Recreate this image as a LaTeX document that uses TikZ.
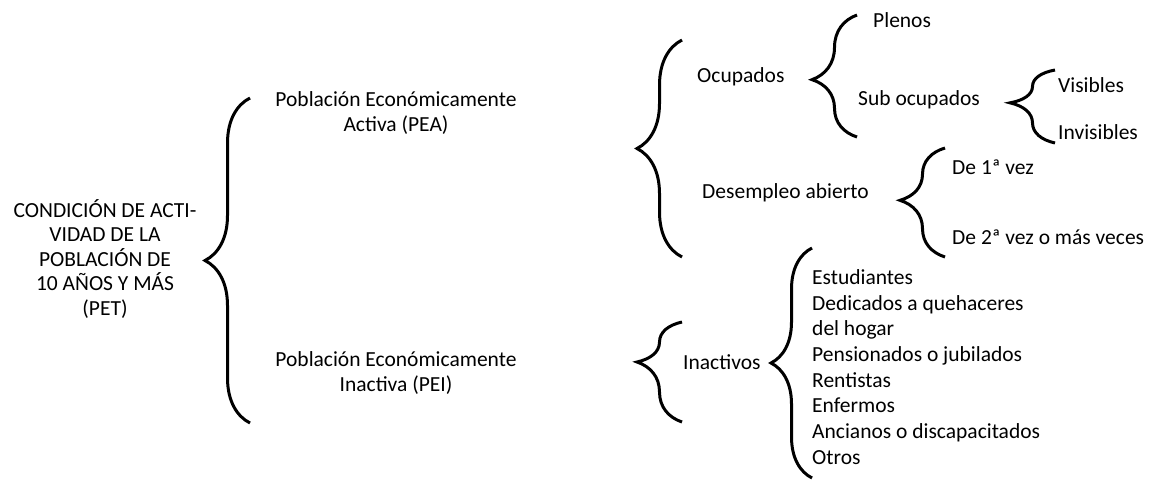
\documentclass[tikz,border=0pt]{standalone}
\usepackage{fontspec}
\setmainfont{Carlito}
\usetikzlibrary{decorations.pathreplacing}
\begin{document}
\begin{tikzpicture}
[x=1pt, y=-1pt,
 txt/.style ={inner sep=0, font=\fontsize{21.5}{24.5}\selectfont},
 lft/.style ={txt, anchor=west, align=left},
 brc/.style ={decorate, decoration={brace, amplitude=45pt}, line width=3pt}]
\useasboundingbox (0,0) rectangle (1150,485);
% textos
\node[txt, align=center] (cond) at (105,259) {CONDICIÓN DE ACTI-\\VIDAD DE LA\\POBLACIÓN DE\\10 AÑOS Y MÁS\\(PET)};
\node[txt, align=center] (pea) at (396,113) {Población Económicamente\\Activa (PEA)};
\node[txt, align=center] (pei) at (396,373) {Población Económicamente\\Inactiva (PEI)};
\node[lft] (ocup) at (697,77) {Ocupados};
\node[lft] (plenos) at (873,20) {Plenos};
\node[lft] (subocup) at (858,100) {Sub ocupados};
\node[lft] (visib) at (1058,85) {Visibles};
\node[lft] (invisib) at (1058,132) {Invisibles};
\node[lft] (desemp) at (702,193) {Desempleo abierto};
\node[lft] (vez1) at (952,167) {De 1ª vez};
\node[lft] (vez2) at (952,237) {De 2ª vez o más veces};
\node[lft] (inact) at (683,362) {Inactivos};
\node[lft, font=\fontsize{21.5}{25.7}\selectfont] (lista) at (812,367) {Estudiantes\\Dedicados a quehaceres\\del hogar\\Pensionados o jubilados\\Rentistas\\Enfermos\\Ancianos o discapacitados\\Otros};
% llaves
\coordinate (pet1) at (250,98); \coordinate (pet2) at (250,423);
\coordinate (pea1) at (682,40); \coordinate (pea2) at (682,257);
\coordinate (ocu1) at (857,15); \coordinate (ocu2) at (857,137);
\coordinate (sub1) at (1055,70); \coordinate (sub2) at (1055,143);
\coordinate (des1) at (945,148); \coordinate (des2) at (945,257);
\coordinate (pei1) at (682,322); \coordinate (pei2) at (682,422);
\coordinate (ina1) at (812,248); \coordinate (ina2) at (812,478);
\draw[brc] (pet2) -- (pet1);
\draw[brc] (pea2) -- (pea1);
\draw[brc, decoration={aspect=.47}] (ocu2) -- (ocu1);
\draw[brc, decoration={aspect=.55}] (sub2) -- (sub1);
\draw[brc, decoration={aspect=.52}] (des2) -- (des1);
\draw[brc, decoration={aspect=.6}] (pei2) -- (pei1);
\draw[brc, decoration={amplitude=41pt}] (ina2) -- (ina1);
\end{tikzpicture}
\end{document}
